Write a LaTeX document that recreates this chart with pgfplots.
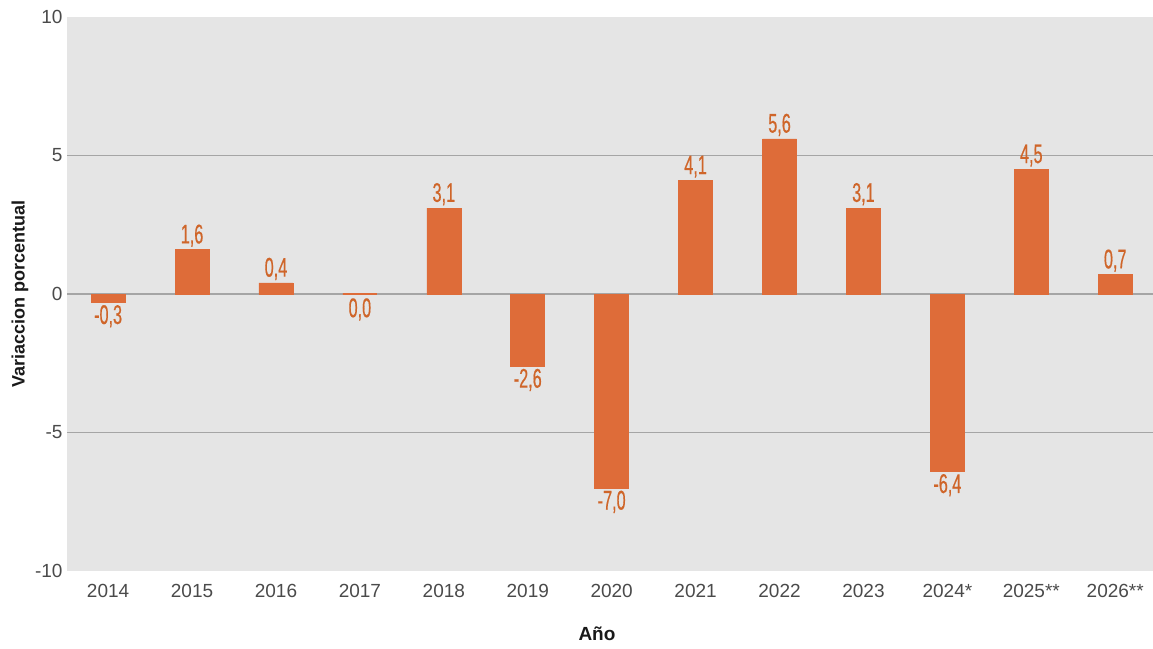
\documentclass[border=0pt]{standalone}
\usepackage{fontspec}
\setmainfont{Liberation Sans}
\newfontfamily\condfont[FakeStretch=0.6,FakeBold=0.45]{Liberation Sans}
\usepackage{pgfplots}
\pgfplotsset{compat=1.18}
\usepackage{pgfplotstable}
\definecolor{barc}{HTML}{DE6C39}
\definecolor{labc}{HTML}{CF6529}
\definecolor{bgc}{HTML}{E5E5E5}
\definecolor{gridc}{HTML}{A5A5A5}
\definecolor{tickc}{HTML}{4A4A4A}
\pgfplotstableread{
x y
1 1.6
2 0.4
4 3.1
7 4.1
8 5.6
9 3.1
11 4.5
12 0.7
}\postable
\pgfplotstableread{
x y
0 -0.3
5 -2.6
6 -7.0
10 -6.4
}\negtable
\pgfplotstableread{
x y
3 0.0
}\zerotable
\begin{document}
\begin{tikzpicture}[x=1pt,y=1pt]
\begin{axis}[
  name=ax,
  scale only axis,
  width=1086pt, height=554pt,
  xmin=-0.49, xmax=12.45,
  ymin=-10, ymax=10,
  axis background/.style={fill=bgc},
  axis line style={draw=none},
  major tick length=0pt,
  xtick={0,...,12},
  xticklabels={2014,2015,2016,2017,2018,2019,2020,2021,2022,2023,2024*,2025**,2026**},
  ytick={-10,-5,0,5,10},
  extra y ticks={-5,0,5},
  extra y tick labels={},
  extra y tick style={grid=major},
  grid style={draw=gridc, line width=1.1pt},
  /pgf/number format/assume math mode=true,
  tick label style={font=\fontsize{19}{22}\selectfont, text=tickc},
  xticklabel style={yshift=-10pt},
  yticklabel style={xshift=-1pt},
  xlabel={Año},
  ylabel={Variaccion porcentual},
  xlabel style={font=\bfseries\fontsize{19}{22}\selectfont, text=black!90, at={(axis description cs:0.488,-0.114)}, anchor=center},
  ylabel style={font=\bfseries\fontsize{18}{22}\selectfont, text=black!90, at={(axis description cs:-0.0433,0.5)}, anchor=center},
  clip=false,
  ybar, bar width=34pt, bar shift=0pt,
  nodes near coords,
  nodes near coords style={font=\condfont\fontsize{27}{30}\selectfont, text=labc, inner sep=2.5pt,
    /pgf/number format/fixed, /pgf/number format/fixed zerofill, /pgf/number format/precision=1,
    /pgf/number format/use comma, /pgf/number format/assume math mode=true},
]
\addplot[fill=barc, draw=barc, line width=0.6pt,
  nodes near coords style={anchor=south}] table[x=x, y=y] {\postable};
\addplot[fill=barc, draw=barc, line width=0.6pt,
  nodes near coords style={anchor=north}] table[x=x, y=y] {\negtable};
\addplot[fill=barc, draw=barc, line width=1.6pt,
  nodes near coords style={anchor=north, yshift=-1pt}] table[x=x, y=y] {\zerotable};
\end{axis}
\pgfresetboundingbox
\path[use as bounding box] ([shift={(-67pt,-77pt)}]ax.south west) rectangle ([shift={(0pt,17pt)}]ax.north east);
\end{tikzpicture}
\end{document}
